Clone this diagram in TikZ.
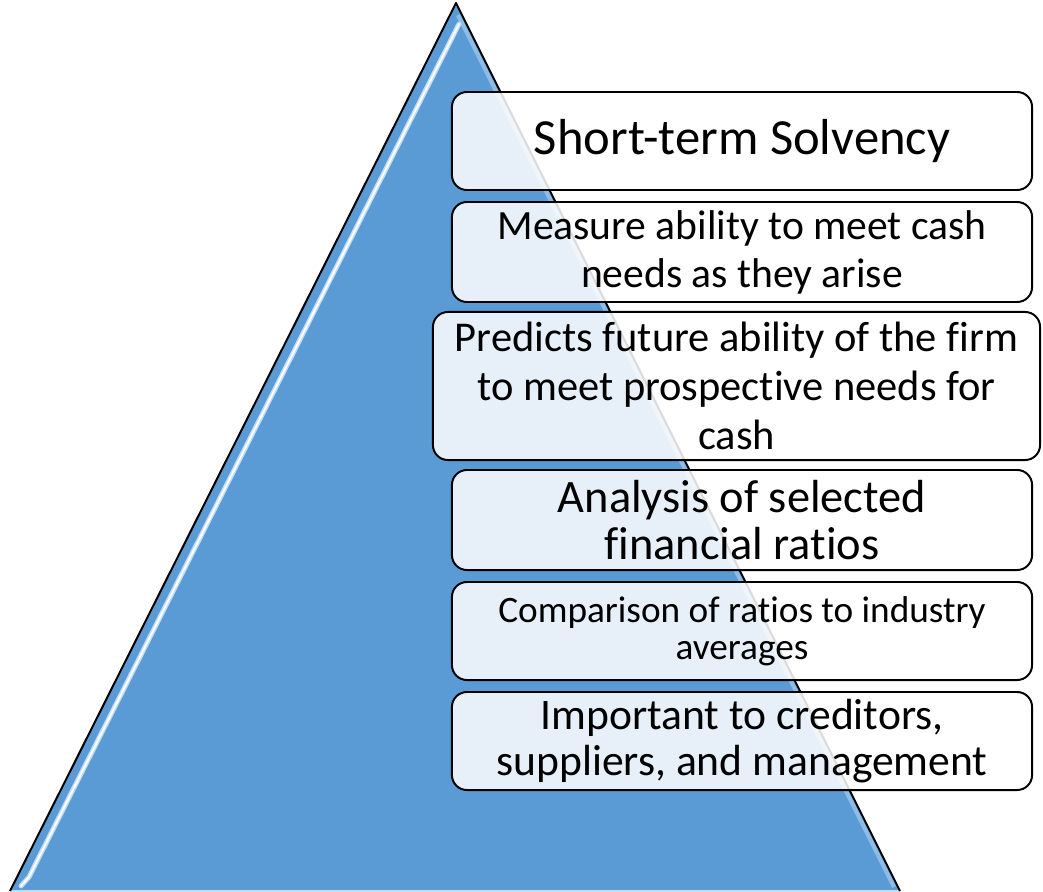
\documentclass[tikz,border=0pt]{standalone}
\usepackage{fontspec}
\setmainfont[Ligatures=NoCommon]{Carlito}
\usetikzlibrary{calc}
\definecolor{pyrblue}{HTML}{5B9BD5}
\definecolor{pyrglow}{HTML}{BFDDF5}

\begin{document}
\begin{tikzpicture}[x=0.025cm, y=-0.025cm, line join=round,
    card/.style={draw=black, line width=1.4pt, rounded corners=0.375cm, fill=white,
      fill opacity=0.86, text opacity=1, align=center, inner sep=0pt, minimum width=14.5cm}]
  \useasboundingbox (0,0) rectangle (1043,892);
  \coordinate (A) at (10,891); \coordinate (B) at (900,891); \coordinate (C) at (456,3);
  \fill[pyrblue] (A) -- (C) -- (B) -- cycle;
  \draw[pyrglow, line width=1.5pt] (A) -- (B);
  \draw[pyrglow, line width=3pt, opacity=0.5] ($(C)+(2,12)$) -- ($(B)+(-6,-4)$);
  % highlight on the left face
  \draw[pyrglow, line width=3.5pt, line cap=round] (459,24) -- (29,877) -- (21,886);
  \draw[white, line width=1.4pt, line cap=round] (459,24) -- (29,877) -- (21,886);
  \draw[line width=1.4pt] (A) -- (C) -- (B);

  \node[card, minimum height=2.45cm, font=\fontsize{36}{43}\selectfont] (solvency) at (742,141) {Short-term Solvency};
  \node[card, minimum height=2.5cm, font=\fontsize{29.6}{34}\selectfont] (measure) at (742,252) {Measure ability to meet cash\\needs as they arise};
  \node[card, minimum height=3.7cm, minimum width=15.175cm, font=\fontsize{30.2}{35}\selectfont] (predict) at (736.5,386) {Predicts future ability of the firm\\to meet prospective needs for\\cash};
  \node[card, minimum height=2.5cm, font=\fontsize{33}{34}\selectfont] (ratios) at (742,520) {Analysis of selected\\financial ratios};
  \node[card, minimum height=2.45cm, font=\fontsize{26.5}{26.5}\selectfont] (compare) at (742,631) {Comparison of ratios to industry\\averages};
  \node[card, minimum height=2.45cm, font=\fontsize{31}{32.7}\selectfont] (users) at (742,741) {Important to creditors,\\suppliers, and management};
\end{tikzpicture}
\end{document}
